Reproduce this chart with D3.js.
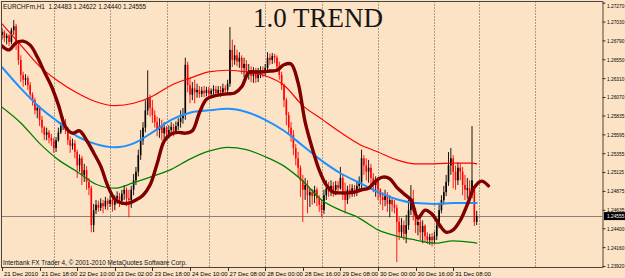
<!DOCTYPE html>
<html><head><meta charset="utf-8">
<script src="https://cdn.jsdelivr.net/npm/d3@7"></script>
<style>html,body{margin:0;padding:0;background:#FDE3C5;} svg{display:block;}</style>
</head><body>
<svg id="c" width="625" height="278"></svg>
<script>
const symbolName = "EURCHFm,H1";
const titleText = "1.0 TREND";
const copyrightText = "Interbank FX Trader 4, \u00A9 2001-2010 MetaQuotes Software Corp.";
const timeLabels = ["21 Dec 2010","21 Dec 18:00","22 Dec 10:00","23 Dec 02:00","23 Dec 18:00","24 Dec 10:00","27 Dec 08:00","28 Dec 00:00","28 Dec 16:00","29 Dec 08:00","30 Dec 00:00","30 Dec 16:00","31 Dec 08:00"];
const timeLabelBars = [0,16,32,48,64,80,96,112,128,144,160,176,192];
const daySeparatorBars = [22,46,70,88,112,136,160,184,203,227];
const priceTicks = [1.27270,1.27030,1.26790,1.26550,1.26310,1.26070,1.25835,1.25595,1.25355,1.25115,1.24875,1.24635,1.24400,1.24160,1.23920];

const opens = [1.2686,1.2690,1.2682,1.2685,1.2677,1.2692,1.2697,1.2673,1.2654,1.2635,
1.2629,1.2631,1.2622,1.2610,1.2603,1.2590,1.2593,1.2578,1.2568,1.2559,
1.2562,1.2555,1.2551,1.2542,1.2552,1.2562,1.2570,1.2573,1.2565,1.2552,
1.2545,1.2548,1.2537,1.2520,1.2529,1.2508,1.2514,1.2499,1.2491,1.2444,
1.2463,1.2470,1.2466,1.2472,1.2468,1.2475,1.2471,1.2476,1.2470,1.2478,
1.2481,1.2475,1.2484,1.2489,1.2478,1.2476,1.2489,1.2501,1.2512,1.2533,
1.2552,1.2568,1.2590,1.2606,1.2593,1.2584,1.2575,1.2565,1.2570,1.2561,
1.2568,1.2560,1.2565,1.2569,1.2564,1.2570,1.2575,1.2580,1.2584,1.2648,
1.2622,1.2610,1.2618,1.2613,1.2616,1.2611,1.2615,1.2612,1.2616,1.2611,
1.2615,1.2617,1.2612,1.2616,1.2613,1.2618,1.2616,1.2624,1.2667,1.2654,
1.2660,1.2652,1.2657,1.2644,1.2649,1.2639,1.2641,1.2634,1.2639,1.2631,
1.2636,1.2641,1.2638,1.2644,1.2657,1.2654,1.2659,1.2657,1.2646,1.2635,
1.2622,1.2603,1.2584,1.2568,1.2559,1.2542,1.2529,1.2517,1.2501,1.2489,
1.2495,1.2482,1.2486,1.2481,1.2489,1.2478,1.2470,1.2463,1.2482,1.2491,
1.2486,1.2494,1.2489,1.2495,1.2491,1.2504,1.2486,1.2476,1.2489,1.2484,
1.2491,1.2486,1.2494,1.2499,1.2529,1.2520,1.2512,1.2517,1.2504,1.2495,
1.2501,1.2489,1.2480,1.2476,1.2481,1.2471,1.2476,1.2470,1.2466,1.2448,
1.2435,1.2444,1.2433,1.2444,1.2463,1.2478,1.2461,1.2444,1.2448,1.2435,
1.2443,1.2430,1.2425,1.2429,1.2425,1.2430,1.2444,1.2463,1.2476,1.2486,
1.2499,1.2520,1.2529,1.2512,1.2501,1.2517,1.2512,1.2495,1.2489,1.2491,
1.2482,1.2489,1.24483];
const highs = [1.2695,1.2692,1.2688,1.2687,1.2695,1.2705,1.2700,1.2677,1.2660,1.2639,
1.2636,1.2634,1.2626,1.2613,1.2606,1.2598,1.2596,1.2583,1.2570,1.2568,
1.2565,1.2560,1.2555,1.2556,1.2568,1.2575,1.2582,1.2579,1.2569,1.2557,
1.2554,1.2552,1.2540,1.2534,1.2532,1.2522,1.2519,1.2504,1.2494,1.2471,
1.2476,1.2475,1.2478,1.2476,1.2480,1.2478,1.2482,1.2481,1.2482,1.2487,
1.2485,1.2489,1.2495,1.2492,1.2489,1.2494,1.2509,1.2518,1.2540,1.2565,
1.2575,1.2603,1.2641,1.2610,1.2603,1.2590,1.2582,1.2580,1.2578,1.2575,
1.2570,1.2571,1.2575,1.2573,1.2576,1.2580,1.2590,1.2593,1.2657,1.2652,
1.2631,1.2626,1.2629,1.2624,1.2621,1.2620,1.2621,1.2620,1.2620,1.2618,
1.2622,1.2621,1.2621,1.2621,1.2624,1.2622,1.2629,1.2696,1.2680,1.2673,
1.2667,1.2664,1.2660,1.2657,1.2654,1.2649,1.2646,1.2645,1.2644,1.2644,
1.2646,1.2646,1.2649,1.2664,1.2662,1.2663,1.2662,1.2660,1.2652,1.2639,
1.2624,1.2606,1.2588,1.2575,1.2565,1.2547,1.2537,1.2520,1.2508,1.2504,
1.2501,1.2491,1.2490,1.2494,1.2492,1.2482,1.2476,1.2489,1.2501,1.2499,
1.2501,1.2499,1.2500,1.2500,1.2518,1.2508,1.2498,1.2494,1.2496,1.2496,
1.2495,1.2499,1.2506,1.2540,1.2533,1.2529,1.2527,1.2522,1.2510,1.2506,
1.2505,1.2491,1.2486,1.2489,1.2486,1.2482,1.2480,1.2476,1.2470,1.2454,
1.2453,1.2450,1.2457,1.2476,1.2495,1.2489,1.2466,1.2457,1.2453,1.2450,
1.2445,1.2435,1.2433,1.2434,1.2436,1.2453,1.2472,1.2482,1.2494,1.2508,
1.2537,1.2542,1.2533,1.2520,1.2524,1.2523,1.2518,1.2508,1.2504,1.2501,
1.2570,1.2491,1.24622];
const lows = [1.2680,1.2677,1.2674,1.2672,1.2674,1.2686,1.2667,1.2648,1.2626,1.2620,
1.2622,1.2616,1.2606,1.2596,1.2585,1.2580,1.2570,1.2561,1.2552,1.2552,
1.2548,1.2545,1.2536,1.2537,1.2550,1.2560,1.2565,1.2560,1.2546,1.2536,
1.2540,1.2529,1.2504,1.2512,1.2495,1.2499,1.2489,1.2482,1.2435,1.2435,
1.2458,1.2461,1.2462,1.2459,1.2464,1.2463,1.2467,1.2461,1.2463,1.2471,
1.2467,1.2470,1.2476,1.2468,1.2454,1.2466,1.2482,1.2495,1.2506,1.2527,
1.2546,1.2562,1.2584,1.2582,1.2574,1.2568,1.2557,1.2555,1.2552,1.2554,
1.2552,1.2554,1.2559,1.2557,1.2560,1.2565,1.2568,1.2573,1.2578,1.2613,
1.2599,1.2603,1.2599,1.2606,1.2606,1.2607,1.2607,1.2608,1.2606,1.2607,
1.2610,1.2607,1.2608,1.2607,1.2610,1.2611,1.2612,1.2620,1.2645,1.2648,
1.2646,1.2644,1.2636,1.2632,1.2631,1.2629,1.2626,1.2625,1.2625,1.2626,
1.2631,1.2632,1.2634,1.2641,1.2648,1.2649,1.2650,1.2641,1.2629,1.2616,
1.2594,1.2571,1.2559,1.2550,1.2533,1.2520,1.2505,1.2480,1.2448,1.2476,
1.2459,1.2467,1.2470,1.2472,1.2468,1.2461,1.2454,1.2458,1.2476,1.2480,
1.2481,1.2480,1.2482,1.2484,1.2489,1.2476,1.2459,1.2471,1.2478,1.2480,
1.2480,1.2481,1.2486,1.2491,1.2508,1.2501,1.2498,1.2495,1.2486,1.2480,
1.2476,1.2470,1.2463,1.2468,1.2461,1.2454,1.2461,1.2459,1.2397,1.2425,
1.2428,1.2425,1.2421,1.2438,1.2457,1.2450,1.2434,1.2431,1.2425,1.2421,
1.2424,1.2420,1.2419,1.2417,1.2420,1.2425,1.2440,1.2459,1.2470,1.2481,
1.2494,1.2508,1.2491,1.2489,1.2495,1.2501,1.2482,1.2476,1.2478,1.2473,
1.2478,1.2443,1.24440];
const closes = [1.2690,1.2682,1.2685,1.2677,1.2692,1.2697,1.2673,1.2654,1.2635,1.2629,
1.2631,1.2622,1.2610,1.2603,1.2590,1.2593,1.2578,1.2568,1.2559,1.2562,
1.2555,1.2551,1.2542,1.2552,1.2562,1.2570,1.2573,1.2565,1.2552,1.2545,
1.2548,1.2537,1.2520,1.2529,1.2508,1.2514,1.2499,1.2491,1.2444,1.2463,
1.2470,1.2466,1.2472,1.2468,1.2475,1.2471,1.2476,1.2470,1.2478,1.2481,
1.2475,1.2484,1.2489,1.2478,1.2476,1.2489,1.2501,1.2512,1.2533,1.2552,
1.2568,1.2590,1.2606,1.2593,1.2584,1.2575,1.2565,1.2570,1.2561,1.2568,
1.2560,1.2565,1.2569,1.2564,1.2570,1.2575,1.2580,1.2584,1.2648,1.2622,
1.2610,1.2618,1.2613,1.2616,1.2611,1.2615,1.2612,1.2616,1.2611,1.2615,
1.2617,1.2612,1.2616,1.2613,1.2618,1.2616,1.2624,1.2667,1.2654,1.2660,
1.2652,1.2657,1.2644,1.2649,1.2639,1.2641,1.2634,1.2639,1.2631,1.2636,
1.2641,1.2638,1.2644,1.2657,1.2654,1.2659,1.2657,1.2646,1.2635,1.2622,
1.2603,1.2584,1.2568,1.2559,1.2542,1.2529,1.2517,1.2501,1.2489,1.2495,
1.2482,1.2486,1.2481,1.2489,1.2478,1.2470,1.2463,1.2482,1.2491,1.2486,
1.2494,1.2489,1.2495,1.2491,1.2504,1.2486,1.2476,1.2489,1.2484,1.2491,
1.2486,1.2494,1.2499,1.2529,1.2520,1.2512,1.2517,1.2504,1.2495,1.2501,
1.2489,1.2480,1.2476,1.2481,1.2471,1.2476,1.2470,1.2466,1.2448,1.2435,
1.2444,1.2433,1.2444,1.2463,1.2478,1.2461,1.2444,1.2448,1.2435,1.2443,
1.2430,1.2425,1.2429,1.2425,1.2430,1.2444,1.2463,1.2476,1.2486,1.2499,
1.2520,1.2529,1.2512,1.2501,1.2517,1.2512,1.2495,1.2489,1.2491,1.2482,
1.2501,1.2448,1.24555];

const bandBars = [0,8,16,24,32,40,48,56,64,72,80,88,96,104,112,120,128,136,144,152,160,168,176,184,192,200,202];
const upperBand = [1.2700,1.2673,1.2646,1.2627,1.2612,1.2601,1.2596,1.2599,1.2608,1.2622,1.2631,1.2639,1.2641,1.2639,1.2634,1.2622,1.2596,1.2579,1.2562,1.2547,1.2537,1.2527,1.2522,1.2522,1.2523,1.2523,1.2522];
const middleLine = [1.2645,1.2618,1.2594,1.2575,1.2557,1.2547,1.2543,1.2548,1.2562,1.2578,1.2587,1.2590,1.2592,1.2588,1.2578,1.2564,1.2545,1.2526,1.2510,1.2498,1.2486,1.2477,1.2472,1.2471,1.2472,1.2472,1.2472];
const lowerBand = [1.2594,1.2574,1.2548,1.2527,1.2512,1.2496,1.2491,1.2498,1.2506,1.2515,1.2528,1.2538,1.2543,1.2540,1.2531,1.2519,1.2500,1.2476,1.2463,1.2453,1.2438,1.2430,1.2425,1.2421,1.2424,1.2422,1.2421];
const trendBars = [0,3,6,9,12,15,18,21,24,27,30,33,36,39,42,45,48,51,54,57,60,63,66,69,72,75,78,81,84,87,90,93,96,99,102,105,108,111,114,117,120,123,126,129,132,135,138,141,144,147,150,153,156,159,162,165,168,171,174,177,180,183,186,189,192,195,198,201,204,207];
const trendLine = [1.2672,1.2667,1.2676,1.2678,1.2673,1.2658,1.2639,1.2621,1.2597,1.2569,
1.2561,1.2564,1.2552,1.2536,1.2519,1.2494,1.2477,1.2472,1.2472,1.2476,
1.2482,1.2495,1.2522,1.2551,1.2560,1.2562,1.2561,1.2564,1.2587,1.2604,
1.2608,1.2610,1.2611,1.2612,1.2620,1.2638,1.2639,1.2639,1.2640,1.2641,
1.2648,1.2649,1.2625,1.2575,1.2542,1.2514,1.2495,1.2486,1.2485,1.2485,
1.2486,1.2489,1.2491,1.2500,1.2505,1.2503,1.2492,1.2484,1.2476,1.2453,
1.2463,1.2458,1.2445,1.2435,1.2438,1.2450,1.2470,1.2492,1.2500,1.2494];

const W = 625, H = 278;
const plot = {left: 2, right: 602.5, top: 1.5, bottom: 267};
const sans = "'Liberation Sans', Arial, sans-serif";
const svg = d3.select("#c");
svg.append("rect").attr("width", W).attr("height", H).attr("fill", "#FDE3C5");

const x = d3.scaleLinear().domain([0, 227]).range([2, 2 + 2.35 * 227]);
const y = d3.scaleLinear().domain([1.2392, 1.2727]).range([266, 2.67]);

svg.append("clipPath").attr("id", "clip").append("rect")
  .attr("x", plot.left).attr("y", plot.top).attr("width", plot.right - plot.left).attr("height", plot.bottom - plot.top);
const g = svg.append("g").attr("clip-path", "url(#clip)");

// period separators
g.selectAll("line.sep").data(daySeparatorBars).join("line").attr("class", "sep")
  .attr("x1", d => Math.round(x(d)) + 0.5).attr("x2", d => Math.round(x(d)) + 0.5)
  .attr("y1", plot.top).attr("y2", plot.bottom)
  .attr("stroke", "#5a5248").attr("stroke-width", 1).attr("stroke-dasharray", "1,2");

// last price line
const lastClose = closes[closes.length - 1];
g.append("line").attr("x1", plot.left).attr("x2", plot.right)
  .attr("y1", Math.round(y(lastClose)) + 0.5).attr("y2", Math.round(y(lastClose)) + 0.5)
  .attr("stroke", "#8a8278").attr("stroke-width", 1);

// candles
const bars = d3.range(closes.length).map(i => ({i, o: opens[i], h: highs[i], l: lows[i], c: closes[i]}));
const colorOf = d => d.c >= d.o ? "#000000" : "#FF0000";
g.selectAll("line.wick").data(bars).join("line").attr("class", "wick")
  .attr("x1", d => x(d.i)).attr("x2", d => x(d.i))
  .attr("y1", d => y(d.h)).attr("y2", d => y(d.l))
  .attr("stroke", colorOf).attr("stroke-width", 0.9);
g.selectAll("rect.body").data(bars).join("rect").attr("class", "body")
  .attr("x", d => x(d.i) - 0.8).attr("width", 1.6)
  .attr("y", d => y(Math.max(d.o, d.c)))
  .attr("height", d => Math.max(0.8, Math.abs(y(d.o) - y(d.c))))
  .attr("fill", colorOf);

// indicator lines
function drawLine(idx, vals, color, width, curve) {
  const pts = idx.map((b, k) => [x(b), y(vals[k])]);
  g.append("path").attr("d", d3.line().curve(curve)(pts))
    .attr("fill", "none").attr("stroke", color).attr("stroke-width", width)
    .attr("stroke-linejoin", "round").attr("stroke-linecap", "round");
}
drawLine(bandBars, upperBand, "#FF0000", 1.2, d3.curveMonotoneX);
drawLine(bandBars, middleLine, "#1E90FF", 2, d3.curveMonotoneX);
drawLine(bandBars, lowerBand, "#008000", 1.3, d3.curveMonotoneX);
drawLine(trendBars, trendLine, "#800000", 3.4, d3.curveCatmullRom);

// frame
svg.append("line").attr("x1", 1.5).attr("x2", 1.5).attr("y1", 1).attr("y2", plot.bottom).attr("stroke", "#4a4440");
svg.append("line").attr("x1", 1).attr("x2", plot.right).attr("y1", 1.5).attr("y2", 1.5).attr("stroke", "#4a4440");
svg.append("line").attr("x1", 1).attr("x2", plot.right).attr("y1", plot.bottom + 0.5).attr("y2", plot.bottom + 0.5).attr("stroke", "#4a4440");

// right price axis
const yAxis = d3.axisRight(y).tickValues(priceTicks).tickFormat(d3.format(".5f")).tickSize(3).tickPadding(0);
const ya = svg.append("g").attr("transform", `translate(${plot.right},0)`).call(yAxis);
ya.select(".domain").attr("stroke", "#4a4440").attr("d", `M0.5,1V${plot.bottom + 1}`);
ya.selectAll(".tick line").attr("stroke", "#333");
ya.selectAll(".tick text").attr("font-family", sans).attr("font-size", "6px").attr("fill", "#000")
  .attr("x", 0).attr("transform", "translate(4.5,0) scale(0.8,1)");
ya.selectAll(".tick").filter(d => d === priceTicks[0]).select("text").attr("dy", "0.75em");

// last price box
const lastY = y(lastClose);
svg.append("rect").attr("x", plot.right + 1.5).attr("y", lastY - 4).attr("width", 21).attr("height", 8).attr("fill", "#000");
svg.append("text").attr("x", 0).attr("y", 0).attr("dy", "0.35em")
  .attr("transform", `translate(${plot.right + 4.5},${lastY}) scale(0.8,1)`)
  .attr("font-family", sans).attr("font-size", "6px").attr("fill", "#fff")
  .text(d3.format(".5f")(lastClose));

// time axis
const tg = svg.append("g");
tg.selectAll("line").data(timeLabelBars).join("line")
  .attr("x1", d => Math.round(x(d)) + 0.5).attr("x2", d => Math.round(x(d)) + 0.5)
  .attr("y1", plot.bottom).attr("y2", plot.bottom + 4).attr("stroke", "#333");
tg.selectAll("text").data(timeLabels).join("text")
  .attr("x", (d, k) => x(timeLabelBars[k]) + 2).attr("y", 275.5)
  .attr("font-family", sans).attr("font-size", "6px").attr("fill", "#000")
  .text(d => d);

// header & texts
const fmt = d3.format(".5f");
const n = closes.length - 1;
svg.append("text").attr("x", 3).attr("y", 9)
  .attr("font-family", sans).attr("font-size", "6.4px").attr("fill", "#111")
  .attr("xml:space", "preserve")
  .text(`${symbolName}  ${fmt(opens[n])} ${fmt(highs[n])} ${fmt(lows[n])} ${fmt(closes[n])}`);
svg.append("text").attr("x", 253).attr("y", 26.7)
  .attr("font-family", "'Liberation Serif', 'Times New Roman', serif").attr("font-size", "27px").attr("fill", "#151515")
  .text(titleText);
svg.append("text").attr("x", 3).attr("y", 264.5)
  .attr("font-family", sans).attr("font-size", "6.4px").attr("fill", "#111")
  .text(copyrightText);
</script>
</body></html>
